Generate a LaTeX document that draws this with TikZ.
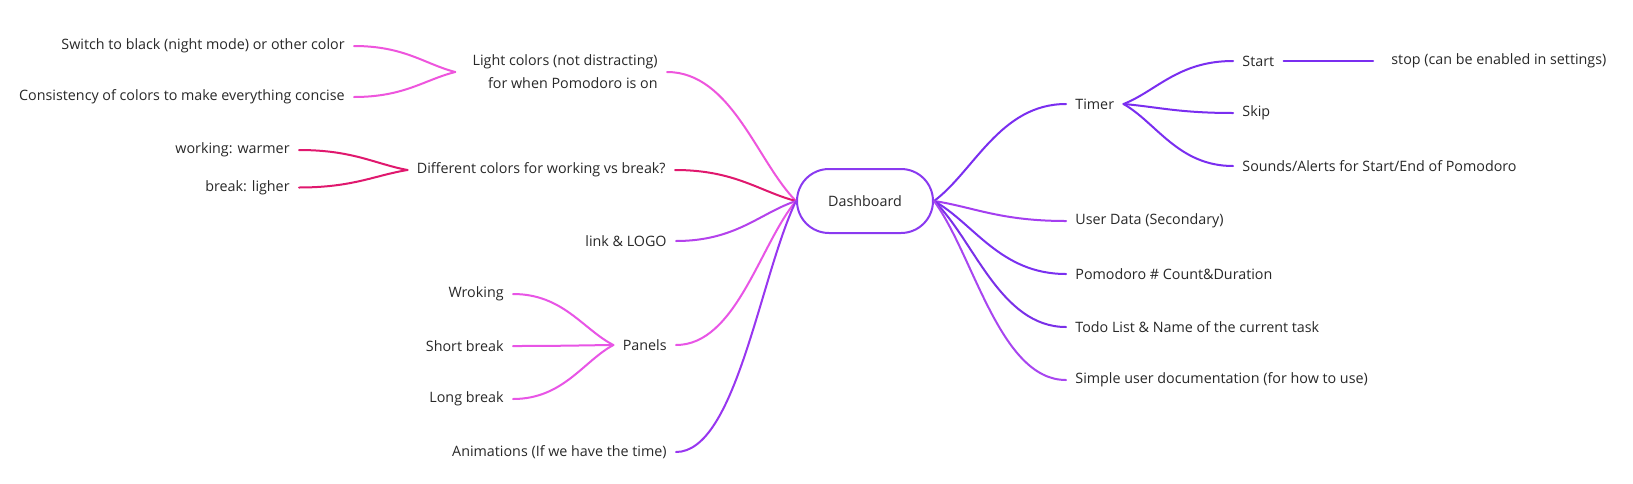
\documentclass[tikz,border=0pt]{standalone}
\usepackage{fontspec}
\setmainfont{Open Sans}
\usetikzlibrary{calc}
\definecolor{txt}{RGB}{40,40,40}
\definecolor{dashc}{RGB}{138,58,240}
\definecolor{timerc}{RGB}{122,46,240}
\definecolor{userc}{RGB}{164,62,240}
\definecolor{pomoc}{RGB}{122,48,240}
\definecolor{todoc}{RGB}{122,48,232}
\definecolor{simplec}{RGB}{168,70,240}
\definecolor{animc}{RGB}{152,54,240}
\definecolor{linkc}{RGB}{180,66,236}
\definecolor{panelc}{RGB}{232,85,230}
\definecolor{lightc}{RGB}{238,85,221}
\definecolor{diffc}{RGB}{224,24,110}
\newcommand\mmlink[3]{\draw[conn,#1] let \p1=(#2), \p2=(#3) in (\p1) .. controls ({\x1+0.5*(\x2-\x1)},\y1) and ({\x2+0.3*(\x1-\x2)},{\y2+0.3*(\y1-\y2)}) .. (\p2);}
\begin{document}
\begin{tikzpicture}[x=0.5pt,y=0.5pt,
  lab/.style={font=\fontsize{7.15pt}{8.5pt}\selectfont, text=txt, inner ysep=0pt, inner xsep=4.5pt},
  rlab/.style={lab,anchor=west},
  llab/.style={lab,anchor=east},
  conn/.style={line width=1pt, line cap=round}]
\fill[white] (0,0) rectangle (1633,-483);
\useasboundingbox (0,0) rectangle (1633,-483);

% central
\node[draw=dashc, line width=1pt, rounded corners=16pt, minimum width=68pt, minimum height=32pt, lab, inner xsep=0pt] (dash) at (865,-201) {Dashboard};

% right side
\node[rlab] (timer) at (1066,-104) {Timer};
\node[rlab] (user) at (1066,-221) {User Data (Secondary)};
\node[rlab] (pomo) at (1066,-274) {Pomodoro \# Count\&Duration};
\node[rlab] (todo) at (1066,-327) {Todo List \& Name of the current task};
\node[rlab] (simple) at (1066,-380) {Simple user documentation (for how to use)};
\node[rlab] (start) at (1233,-61) {Start};
\node[rlab] (skip) at (1233,-113) {Skip};
\node[rlab] (sounds) at (1233,-166) {Sounds/Alerts for Start/End of Pomodoro};
\node[rlab, inner xsep=9pt] (stop) at (1373,-61) {stop (can be enabled in settings)};

% left side
\node[llab, align=right, font=\fontsize{7.15pt}{11.5pt}\selectfont] (light) at (667,-72) {Light colors (not distracting)\\for when Pomodoro is on};
\coordinate (lightin) at ([xshift=-4pt]light.west);
\node[llab] (switch) at (354,-46) {Switch to black (night mode) or other color};
\node[llab] (consist) at (354,-97) {Consistency of colors to make everything concise};
\node[llab] (diff) at (675,-170) {Different colors for working vs break?};
\node[llab] (warm) at (299,-150) {working: warmer};
\node[llab] (ligher) at (299,-187.5) {break: ligher};
\node[llab] (link) at (676,-241) {link \& LOGO};
\node[llab] (panels) at (676,-345) {Panels};
\node[llab] (wrok) at (513,-294) {Wroking};
\node[llab] (short) at (513,-346) {Short break};
\node[llab] (long) at (513,-399) {Long break};
\node[llab] (anim) at (676,-452) {Animations (If we have the time)};

% connectors right
\mmlink{timerc}{timer.west}{dash.east}
\mmlink{userc}{user.west}{dash.east}
\mmlink{pomoc}{pomo.west}{dash.east}
\mmlink{todoc}{todo.west}{dash.east}
\mmlink{simplec}{simple.west}{dash.east}
\mmlink{timerc}{start.west}{timer.east}
\mmlink{timerc}{skip.west}{timer.east}
\mmlink{timerc}{sounds.west}{timer.east}
\draw[conn,timerc] (start.east) -- (stop.west);

% connectors left
\mmlink{lightc}{light.east}{dash.west}
\mmlink{diffc}{diff.east}{dash.west}
\mmlink{linkc}{link.east}{dash.west}
\mmlink{panelc}{panels.east}{dash.west}
\mmlink{animc}{anim.east}{dash.west}
\mmlink{lightc}{switch.east}{lightin}
\mmlink{lightc}{consist.east}{lightin}
\mmlink{diffc}{warm.east}{diff.west}
\mmlink{diffc}{ligher.east}{diff.west}
\mmlink{panelc}{wrok.east}{panels.west}
\mmlink{panelc}{short.east}{panels.west}
\mmlink{panelc}{long.east}{panels.west}
\end{tikzpicture}
\end{document}
